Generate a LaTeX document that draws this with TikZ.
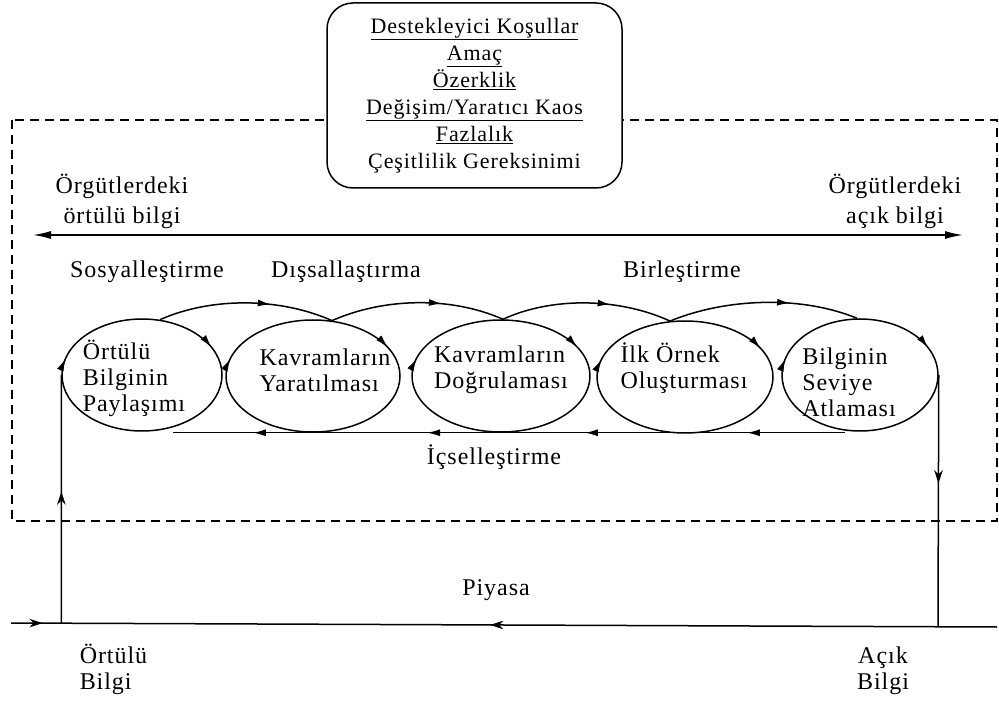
\documentclass[tikz,border=0pt]{standalone}
\usepackage{fontspec}
\setmainfont{Liberation Serif}[LetterSpace=4]
\usetikzlibrary{arrows.meta, shapes.geometric, decorations.markings, calc}

\tikzset{
  hd/.tip={Latex[length=13pt,width=7pt]},
  hs/.tip={Stealth[length=13pt,width=8.5pt,inset=4pt]},
  big/.tip={Latex[length=18pt,width=8pt]},
  lbl/.style={inner sep=0pt, text=black, font=\fontsize{24}{30}\selectfont},
  intext/.style={inner sep=0pt, align=left, text=black, font=\fontsize{24}{26}\selectfont},
  stage/.style={ellipse, draw, inner sep=0pt, line width=1.5pt,
    postaction={decorate},
    decoration={markings,
      mark=at position 0.07 with {\arrowreversed{hd}},
      mark=at position 0.46 with {\arrowreversed{hd}}}},
  cond/.style={draw, fill=white, rounded corners=26pt, line width=1.5pt,
    minimum width=295pt, minimum height=185pt, align=center, inner sep=0pt,
    text=black, font=\fontsize{22}{27}\selectfont},
  zone/.style={line width=1.2pt, dash pattern=on 9pt off 6pt},
  flow/.style={line width=1.5pt},
  midmark/.style={postaction={decorate},
    decoration={markings, mark=at position #1 with {\arrow{hd}}}},
  midstealth/.style={postaction={decorate},
    decoration={markings, mark=at position #1 with {\arrow{hs}}}},
}

\begin{document}
\begin{tikzpicture}[x=1pt, y=-1pt]
\useasboundingbox (0,0) rectangle (999,708);

% organisational boundary
\draw[zone] (12,120) rectangle (997,521);

% enabling conditions
\node[cond] (kos) at (474.5,95.5)
  {\underline{Destekleyici Koşullar}\\
   \underline{Amaç}\\
   \underline{Özerklik}\\
   \underline{Değişim/Yaratıcı Kaos}\\
   \underline{Fazlalık}\\
   Çeşitlilik Gereksinimi};

% tacit <-> explicit axis
\coordinate (la) at (33,235);
\coordinate (ra) at (963,235);
\draw[flow, big-big] (la) -- (ra);
\node[lbl, align=center] (orl) at (122,201) {Örgütlerdeki\\örtülü bilgi};
\node[lbl, align=center] (orr) at (895,201) {Örgütlerdeki\\açık bilgi};

% conversion mode labels
\node[lbl] (sos) at (147,272) {Sosyalleştirme};
\node[lbl] (dis) at (346,272) {Dışsallaştırma};
\node[lbl] (bir) at (682,272) {Birleştirme};
\node[lbl] (ics) at (494,457) {İçselleştirme};

% the five phases
\node[stage, minimum width=160pt, minimum height=112pt] (e1) at (142,375) {};
\node[stage, minimum width=174pt, minimum height=112pt] (e2) at (313,376) {};
\node[stage, minimum width=178pt, minimum height=112pt] (e3) at (501,376) {};
\node[stage, minimum width=176pt, minimum height=112pt] (e4) at (685,377) {};
\node[stage, minimum width=156pt, minimum height=112pt] (e5) at (860,375) {};

\node[intext] (t1) at (134,378) {Örtülü\\Bilginin\\Paylaşımı};
\node[intext] (t2) at (325,370) {Kavramların\\Yaratılması};
\node[intext] (t3) at (501,370) {Kavramların\\Doğrulaması};
\node[intext] (t4) at (684,368) {İlk Örnek\\Oluşturması};
\node[intext] (t5) at (849,382) {Bilginin\\Seviye\\Atlaması};

% forward links across the tops
\draw[flow, midmark=0.64] (e1.72) .. controls +(52,-23) and +(-52,-23) .. (e2.71);
\draw[flow, midmark=0.64] (e2.71) .. controls +(52,-23) and +(-52,-23) .. (e3.88);
\draw[flow, midmark=0.64] (e3.88) .. controls +(50,-23) and +(-50,-23) .. (e4.105);
\draw[flow, midmark=0.64] (e4.105) .. controls +(56,-23) and +(-56,-23) .. (e5.93);

% internalisation return along the bottoms
\draw[flow, postaction={decorate}, decoration={markings,
    mark=at position 0.146 with {\arrow{hd}},
    mark=at position 0.387 with {\arrow{hd}},
    mark=at position 0.622 with {\arrow{hd}},
    mark=at position 0.881 with {\arrow{hd}}}]
  ($(e5.south)+(-15,1)$) -- ($(e1.south)+(31,1)$);

% market
\coordinate (p0) at (11,623);
\coordinate (p1) at (997,627);
\coordinate (ob) at (61.5,623.2);
\coordinate (ab) at (938,626.7);
\draw[flow, postaction={decorate}, decoration={markings,
    mark=at position 0.032 with {\arrow{hs}},
    mark=at position 0.486 with {\arrowreversed{hs}}}]
  (p0) -- (p1);
\draw[flow, midstealth=0.53] (ob) -- (e1.west);
\draw[flow, midstealth=0.43] (e5.east) -- (ab);

\node[lbl] (piy) at (496,590) {Piyasa};
\node[lbl, align=left, font=\fontsize{24}{26}\selectfont] (otb) at (113.5,669) {Örtülü\\Bilgi};
\node[lbl, align=center, font=\fontsize{24}{26}\selectfont] (acb) at (883,671) {Açık\\Bilgi};
\end{tikzpicture}
\end{document}
